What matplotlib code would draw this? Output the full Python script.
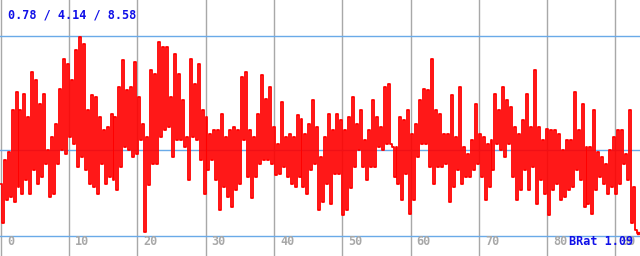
import matplotlib
matplotlib.use('Agg')
import matplotlib.pyplot as plt
import numpy as np

# values (pairs of local high / low)
brat = [
    2.83, 1.27, 3.74, 2.18, 4.07, 2.31, 5.69, 2.12, 6.41, 2.70,
    5.69, 2.44, 6.34, 2.96, 5.43, 2.44, 7.19, 3.35, 6.86, 2.83,
    5.95, 3.09, 6.34, 3.61, 4.13, 2.31, 4.65, 2.44, 5.17, 3.61,
    6.54, 4.13, 7.71, 4.00, 7.51, 4.65, 6.86, 4.39, 8.03, 3.48,
    8.55, 3.87, 8.29, 3.35, 5.69, 2.83, 6.28, 2.70, 6.21, 2.44,
    5.43, 3.61, 4.91, 2.83,
    5.04, 3.09, 5.56, 2.96, 5.43, 2.57, 6.60, 3.48, 7.64, 4.26,
    6.47, 4.13, 6.60, 3.87, 7.58, 4.00, 6.21, 4.52, 5.17, 0.94,
    4.65, 2.77, 7.25, 3.61, 7.12, 3.61, 8.36, 4.65, 8.16, 4.91,
    8.16, 5.04, 6.21, 3.87, 7.90, 4.52, 7.12, 4.52, 6.08, 4.26,
    4.65, 2.96, 7.70, 4.65, 6.73, 4.52, 7.51, 3.74, 5.69, 2.44,
    5.43, 3.35, 4.78, 3.74,
    4.91, 2.96, 4.91, 1.79, 5.56, 2.70, 4.65, 2.31, 4.91, 1.92,
    5.04, 2.57, 4.91, 2.83, 6.99, 4.52, 7.19, 3.09, 4.91, 2.25,
    4.65, 3.09, 5.56, 3.61, 7.06, 3.74, 6.15, 3.74, 6.60, 3.61,
    5.04, 3.16, 4.39, 3.22, 6.02, 3.48, 4.65, 3.09, 4.78, 2.83,
    4.65, 2.70, 5.50, 3.09, 5.36, 2.70, 4.78, 2.44, 5.17, 3.35,
    6.08, 3.61, 5.04, 1.79,
    3.87, 2.12, 4.65, 2.83, 5.56, 2.05, 4.91, 3.22, 5.56, 3.22,
    5.30, 1.60, 4.91, 1.79, 5.43, 2.64, 6.21, 3.48, 5.17, 4.13,
    5.69, 3.48, 4.52, 2.96, 4.91, 3.48, 6.08, 3.48, 5.43, 4.26,
    5.04, 4.13, 6.60, 4.39, 6.73, 4.39, 4.26, 3.09, 4.26, 2.83,
    5.43, 2.18, 5.30, 3.22, 5.69, 1.66, 4.78, 2.18, 5.17, 3.87,
    6.08, 4.39, 6.54, 4.39,
    6.47, 3.48, 7.70, 2.83, 5.69, 3.48, 5.56, 3.48, 4.78, 3.61,
    4.78, 2.12, 6.28, 2.70, 4.65, 3.35, 6.60, 2.83, 4.26, 3.09,
    4.00, 3.09, 4.52, 3.35, 5.95, 3.61, 4.78, 3.09, 4.65, 2.18,
    4.39, 2.70, 4.52, 3.35, 6.34, 4.39, 5.69, 4.13, 6.60, 3.87,
    6.08, 4.39, 5.82, 3.09, 5.04, 2.18, 4.78, 2.57, 5.30, 3.35,
    6.34, 2.57, 5.04, 3.48,
    7.25, 2.05, 5.04, 2.96, 4.52, 2.44, 4.98, 1.60, 4.91, 2.57,
    4.91, 2.83, 4.78, 2.18, 4.13, 2.31, 4.52, 2.57, 4.52, 2.70,
    6.41, 3.35, 4.91, 2.96, 5.95, 1.92, 4.26, 2.05, 4.26, 1.66,
    5.69, 2.57, 4.06, 3.09, 3.87, 2.83, 3.61, 2.44, 4.13, 2.70,
    4.65, 2.44, 4.91, 2.83, 4.91, 3.61, 4.00, 2.96, 5.69, 1.27,
    2.70, 1.01, 0.90,
]
x_end = 93.3
low, mean, high = 0.78, 4.14, 8.58
brat_last = 1.09
x_ticks = list(range(0, 100, 10))

fig = plt.figure(figsize=(6.4, 2.56), dpi=100)
ax = fig.add_axes([0, 0, 1, 1])
ax.set_xlim(-0.1, 93.6)
ax.set_ylim(0, 10)
ax.axis('off')

for t in x_ticks:
    ax.axvline(t, color='#a8a8a8', lw=1.0, zorder=1)
    ax.text(t + 0.9, 0.55, str(t), color='#a8a8a8', fontsize=8.5,
            family='DejaVu Sans Mono', weight='bold', va='center', ha='left', zorder=2)
for v in (low, mean, high):
    ax.axhline(v, color='#6aaae8', lw=1.0, zorder=1)

xs = np.linspace(0, x_end, len(brat))
ax.plot(xs, brat, color='#ff0000', lw=1.3, drawstyle='steps-mid', zorder=3)
ax.plot(xs[-1:], brat[-1:], 's', color='#ff0000', ms=2, zorder=3)

ax.text(1.1, 9.4, f'{low:.2f} / {mean:.2f} / {high:.2f}', color='#1010e8',
        fontsize=8.5, family='DejaVu Sans Mono', weight='bold', va='center', zorder=4)
ax.text(92.6, 0.55, f'BRat {brat_last:.2f}', color='#1010e8', fontsize=8.5,
        family='DejaVu Sans Mono', weight='bold', va='center', ha='right', zorder=4)

fig.savefig('out.png', dpi=100)
